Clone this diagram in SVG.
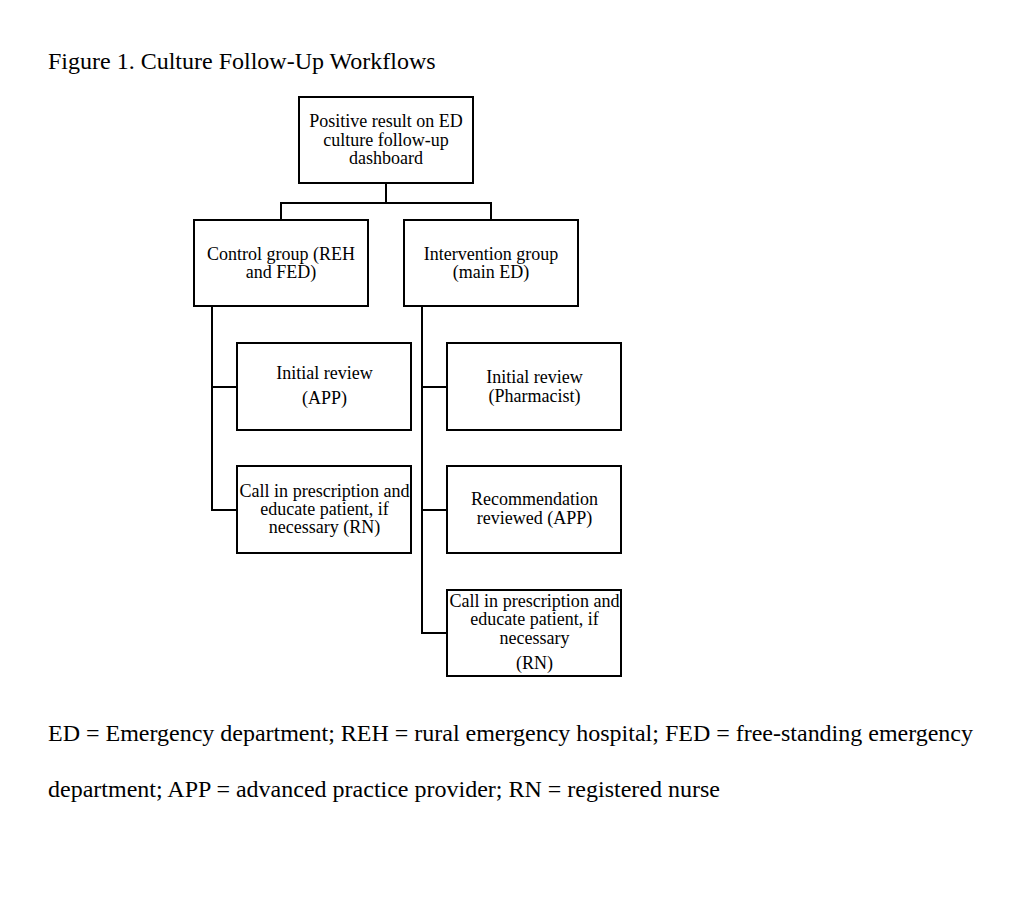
<svg xmlns="http://www.w3.org/2000/svg" width="1028" height="905" viewBox="0 0 1028 905">
<style>
.bg{fill:#fff}
.box{fill:#fff;stroke:#000;stroke-width:2}
.conn{fill:none;stroke:#000;stroke-width:2}
.t{font-family:"Liberation Serif","Times New Roman",serif;font-size:18px;fill:#000;text-anchor:middle}
.cap{font-family:"Liberation Serif","Times New Roman",serif;font-size:24px;fill:#000}
</style>
<rect class="bg" x="0" y="0" width="1028" height="905"/>
<text class="cap" x="48" y="69">Figure 1. Culture Follow-Up Workflows</text>
<g id="connectors">
<path class="conn" d="M386,183 V203 M281,203 H491 M281,202 V220 M491,202 V220"/>
<path class="conn" d="M212,306 V510 H237 M211,387 H237"/>
<path class="conn" d="M422,306 V633 H447 M421,387 H447 M421,510 H447"/>
</g>
<g id="n-top">
<rect class="box" x="299" y="97" width="174" height="86"/>
<text class="t" x="386" y="127">Positive result on ED</text>
<text class="t" x="386" y="146">culture follow-up</text>
<text class="t" x="386" y="164">dashboard</text>
</g>
<g id="n-control">
<rect class="box" x="194" y="220" width="174" height="86"/>
<text class="t" x="281" y="260">Control group (REH</text>
<text class="t" x="281" y="278">and FED)</text>
</g>
<g id="n-intervention">
<rect class="box" x="404" y="220" width="174" height="86"/>
<text class="t" x="491" y="260">Intervention group</text>
<text class="t" x="491" y="278">(main ED)</text>
</g>
<g id="n-c-initial">
<rect class="box" x="237" y="343" width="174" height="87"/>
<text class="t" x="324.5" y="379">Initial review</text>
<text class="t" x="324.5" y="404">(APP)</text>
</g>
<g id="n-c-call">
<rect class="box" x="237" y="466" width="174" height="87"/>
<text class="t" x="324.5" y="497" textLength="170" lengthAdjust="spacingAndGlyphs">Call in prescription and</text>
<text class="t" x="324.5" y="515">educate patient, if</text>
<text class="t" x="324.5" y="533">necessary (RN)</text>
</g>
<g id="n-i-initial">
<rect class="box" x="447" y="343" width="174" height="87"/>
<text class="t" x="534.5" y="383">Initial review</text>
<text class="t" x="534.5" y="402">(Pharmacist)</text>
</g>
<g id="n-i-rec">
<rect class="box" x="447" y="466" width="174" height="87"/>
<text class="t" x="534.5" y="505">Recommendation</text>
<text class="t" x="534.5" y="524">reviewed (APP)</text>
</g>
<g id="n-i-call">
<rect class="box" x="447" y="590" width="174" height="86"/>
<text class="t" x="534.5" y="607" textLength="170" lengthAdjust="spacingAndGlyphs">Call in prescription and</text>
<text class="t" x="534.5" y="625">educate patient, if</text>
<text class="t" x="534.5" y="644">necessary</text>
<text class="t" x="534.5" y="669">(RN)</text>
</g>
<text class="cap" x="48" y="741" textLength="925" lengthAdjust="spacing">ED = Emergency department; REH = rural emergency hospital; FED = free-standing emergency</text>
<text class="cap" x="48" y="797">department; APP = advanced practice provider; RN = registered nurse</text>
</svg>
